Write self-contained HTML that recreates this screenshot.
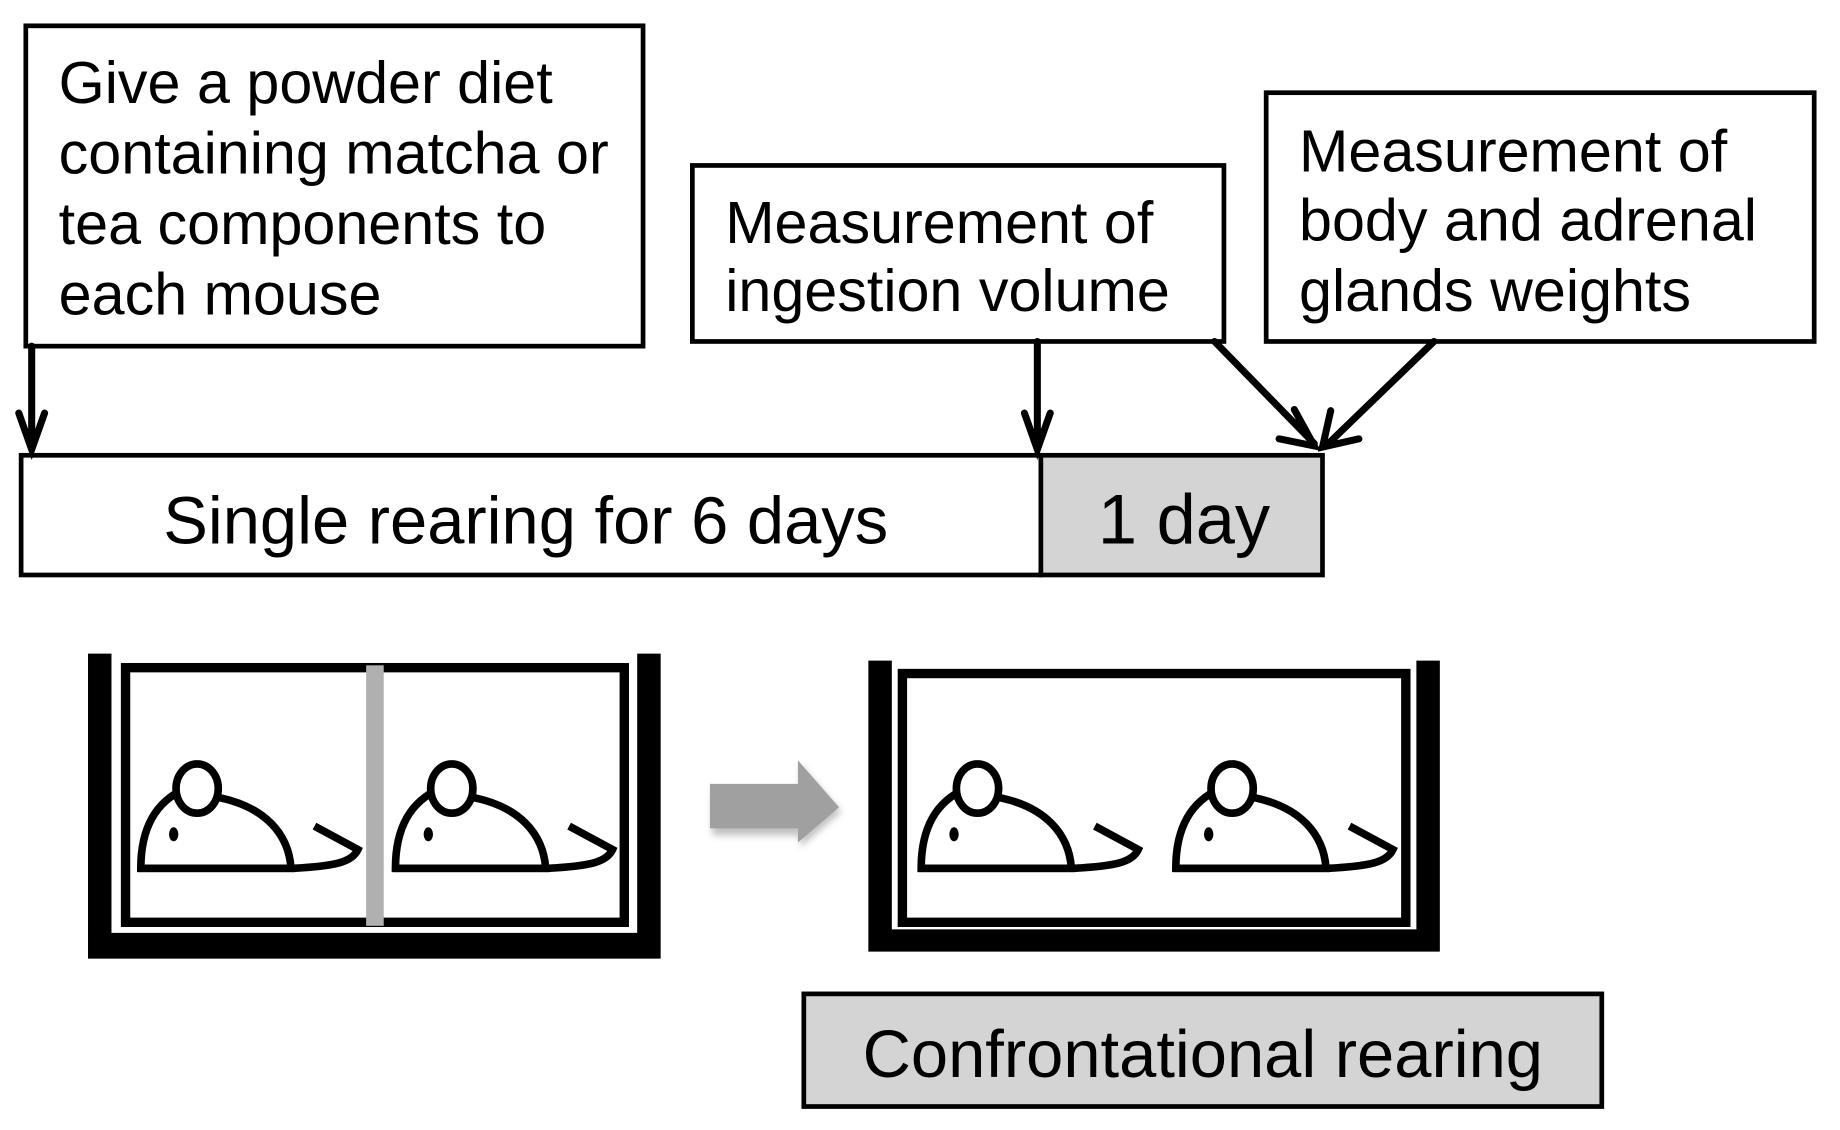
<!DOCTYPE html>
<html><head><meta charset="utf-8"><style>
html,body{margin:0;padding:0;background:#fff;}
svg{display:block;}
text{font-family:"Liberation Sans",Arial,sans-serif;fill:#000;}
</style></head><body>
<svg width="1840" height="1130" viewBox="0 0 1568 963" preserveAspectRatio="none" xmlns="http://www.w3.org/2000/svg">
<defs>
<filter id="bl" x="-20%" y="-20%" width="150%" height="150%"><feGaussianBlur stdDeviation="3"/></filter>
<g id="mouse" fill="none" stroke="#000" stroke-width="6.5">
<path d="M120 740 C120 705 133 683 158 672 L188 680 C225 688 246 710 248 740 Z" fill="#fff"/>
<ellipse cx="168" cy="672" rx="18" ry="21" fill="#fff"/>
<path d="M118 740 L250 740 C285 738 300 735 305 724 L268 704"/>
<ellipse cx="148" cy="711" rx="4" ry="6" fill="#000" stroke="none"/>
</g>
</defs>
<g fill="none" stroke="#000" stroke-width="4">
<rect x="22" y="22" width="526" height="273" fill="#fff"/>
<rect x="590" y="141" width="453" height="150" fill="#fff"/>
<rect x="1079" y="79" width="467" height="212" fill="#fff"/>
<rect x="18" y="388" width="869" height="102" fill="#fff"/>
<rect x="887" y="388" width="240" height="102" fill="#d4d4d4"/>
<rect x="685" y="847" width="680" height="96" fill="#d4d4d4"/>
<g stroke-width="6" stroke-linecap="round">
<path d="M27 295 L27 383 M16 352 L27 383 L38 352"/>
<path d="M884 291 L884 383 M873 352 L884 383 L895 352"/>
<path d="M1035 291 L1120 378 M1103 349 L1120 380 L1090 374"/>
<path d="M1222 291 L1130 380 M1134 350 L1127 381 L1158 374"/>
</g>
</g>
<g font-size="50.5">
<text x="50" y="88">Give a powder diet</text>
<text x="50" y="148">containing matcha or</text>
<text x="50" y="208">tea components to</text>
<text x="50" y="268">each mouse</text>
<text x="618" y="207">Measurement of</text>
<text x="618" y="265">ingestion volume</text>
<text x="1107" y="146">Measurement of</text>
<text x="1107" y="205">body and adrenal</text>
<text x="1107" y="265">glands weights</text>
</g>
<text x="448" y="463" font-size="57" text-anchor="middle">Single rearing for 6 days</text>
<text x="1009" y="463" font-size="60" text-anchor="middle">1 day</text>
<text x="1025" y="918" font-size="57" text-anchor="middle">Confrontational rearing</text>
<!-- cage 1 -->
<path d="M75 557 H95 V795 H543 V557 H563 V817 H75 Z" fill="#000"/>
<rect x="107" y="569" width="425" height="217" fill="#fff" stroke="#000" stroke-width="8"/>
<rect x="312" y="567" width="15" height="222" fill="#b0b0b0"/>
<use href="#mouse"/>
<use href="#mouse" transform="translate(217,0)"/>
<!-- arrow -->
<path d="M605 670 H680 V648 L715 688 L680 718 V708 H605 Z" fill="#9a9a9a" filter="url(#bl)" transform="translate(2,4)" opacity="0.6"/>
<path d="M605 668 H680 V648 L715 688 L680 718 V706 H605 Z" fill="#a0a0a0"/>
<!-- cage 2 -->
<path d="M740 563 H760 V792 H1207 V563 H1227 V811 H740 Z" fill="#000"/>
<rect x="769" y="574" width="429" height="212" fill="#fff" stroke="#000" stroke-width="8"/>
<use href="#mouse" transform="translate(665,0)"/>
<use href="#mouse" transform="translate(882,0)"/>
</svg>
</body></html>
